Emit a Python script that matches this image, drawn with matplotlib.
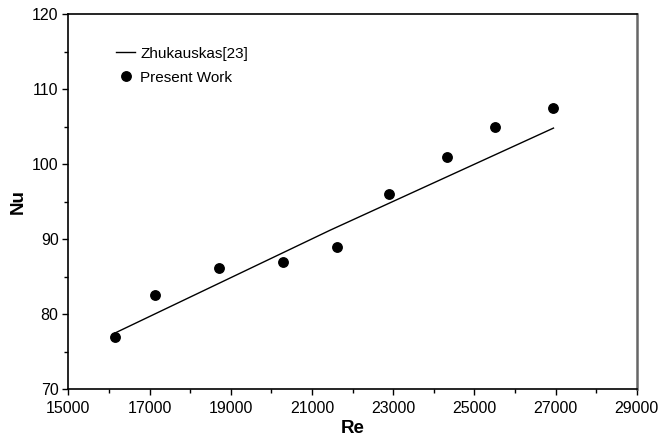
import numpy as np
import matplotlib.pyplot as plt

plt.rcParams['font.family'] = ['Liberation Sans', 'DejaVu Sans']

# Present work measurements
re_data = [16160, 17135, 18710, 20280, 21610, 22900, 24335, 25500, 26945]
nu_data = [77.0, 82.6, 86.1, 87.0, 88.9, 96.0, 101.0, 105.0, 107.5]

# Zhukauskas correlation line
re_line = [16150, 21450, 26950]
nu_line = [77.5, 91.2, 104.8]

fig = plt.figure(figsize=(6.6, 4.36), dpi=100)
ax = fig.add_axes([0.1035, 0.1071, 0.8612, 0.8608])

ax.plot(re_line, nu_line, color='black', lw=1.0, label='Zhukauskas[23]')
ax.plot(re_data, nu_data, 'o', color='black', markersize=6.8, label='Present Work')

ax.set_xlim(15000, 29000)
ax.set_ylim(70, 120)
ax.set_xticks(np.arange(15000, 29001, 2000))
ax.set_yticks(np.arange(70, 121, 10))
ax.set_xticks(np.arange(16000, 29000, 2000), minor=True)
ax.set_yticks(np.arange(75, 120, 10), minor=True)
ax.tick_params(which='major', direction='out', length=4, width=1, labelsize=11.5, pad=3)
ax.tick_params(axis='x', which='major', pad=4.5)
ax.tick_params(which='minor', direction='out', length=3, width=1)

for s in ['left', 'bottom', 'top']:
    ax.spines[s].set_linewidth(1.2)
ax.spines['right'].set_color('#666666')
ax.spines['right'].set_linewidth(1.8)

ax.set_xlabel('Re', fontsize=13.5, fontweight='bold', labelpad=3)
ax.set_ylabel('Nu', fontsize=13.5, fontweight='bold', labelpad=4)

ax.legend(loc='upper left', bbox_to_anchor=(0.084, 0.913), frameon=False,
          fontsize=11, handlelength=1.25, handletextpad=0.35,
          borderpad=0, borderaxespad=0, labelspacing=0.65)

fig.savefig('out.png', dpi=100)
